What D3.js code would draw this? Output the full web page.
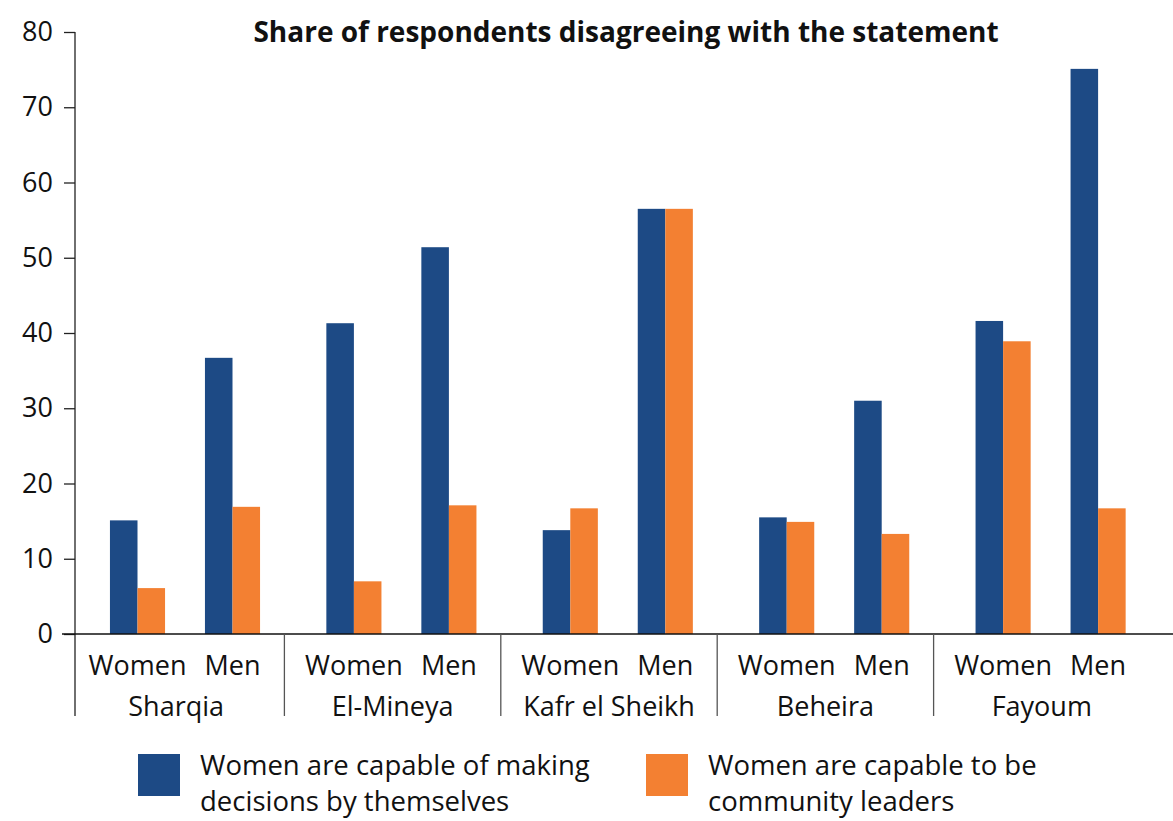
<!DOCTYPE html>
<html>
<head>
<meta charset="utf-8">
<script src="https://cdn.jsdelivr.net/npm/d3@7"></script>
<style>
  body { margin: 0; background: #fff; }
  text { font-family: "Open Sans", "Noto Sans", sans-serif; fill: #111; }
</style>
</head>
<body>
<div id="vis"></div>
<script>
// data ----
const regions = ["Sharqia", "El-Mineya", "Kafr el Sheikh", "Beheira", "Fayoum"]
const genders = ["Women", "Men"]
const seriesNames = ["Women are capable of making|decisions by themselves", "Women are capable to be|community leaders"]
// values per region, [Women, Men]
const decisions = [[15.1, 36.7], [41.3, 51.4], [13.8, 56.5], [15.5, 31.0], [41.6, 75.1]]
const leaders = [[6.1, 16.9], [7.0, 17.1], [16.7, 56.5], [14.9, 13.3], [38.9, 16.7]]
const yTicks = [0, 10, 20, 30, 40, 50, 60, 70, 80]
const colors = ["#1d4a85", "#f38032"]

//dimensions----
const width = 1173, height = 821
const axisX = 75, y0 = 634, yTop = 32

const svg = d3.select("#vis").append("svg")
    .attr("width", width)
    .attr("height", height)

//scales----
const yScale = d3.scaleLinear().domain([0, 80]).range([y0, yTop])

const xGroup = d3.scaleBand().domain(regions).range([68, 1150])

const xSub = d3.scaleBand().domain(genders)
    .range([22, 212])
    .paddingInner(0.42)
    .paddingOuter(0.21)

const xSeries = d3.scaleBand().domain([0, 1]).range([0, xSub.bandwidth()])

//title
svg.append("text")
    .attr("x", 626)
    .attr("y", 42)
    .attr("text-anchor", "middle")
    .style("font-size", "28px")
    .style("font-weight", "bold")
    .text("Share of respondents disagreeing with the statement")

//bars----
const rows = []
regions.forEach((r, i) => {
    genders.forEach((g, j) => {
        rows.push({region: r, gender: g, s: 0, v: decisions[i][j]})
        rows.push({region: r, gender: g, s: 1, v: leaders[i][j]})
    })
})

svg.append("g").selectAll("rect")
    .data(rows)
    .enter().append("rect")
    .attr("x", d => xGroup(d.region) + xSub(d.gender) + xSeries(d.s))
    .attr("width", xSeries.bandwidth())
    .attr("y", d => yScale(d.v))
    .attr("height", d => y0 - yScale(d.v))
    .attr("fill", d => colors[d.s])

//y axis----
const yAxis = svg.append("g")
    .attr("transform", `translate(${axisX},0)`)
    .call(d3.axisLeft(yScale).tickValues(yTicks).tickSize(11).tickPadding(11))
yAxis.select(".domain").remove()
yAxis.selectAll("line").attr("stroke", "#222").attr("stroke-width", 1.3)
yAxis.selectAll("text").style("font-size", "27px").attr("fill", "#111")

svg.append("line")
    .attr("x1", axisX).attr("x2", axisX)
    .attr("y1", yTop).attr("y2", 716)
    .attr("stroke", "#222").attr("stroke-width", 1.3)

//x axis line
svg.append("line")
    .attr("x1", 62).attr("x2", width)
    .attr("y1", y0).attr("y2", y0)
    .attr("stroke", "#111").attr("stroke-width", 1.5)

//separators between regions
svg.append("g").selectAll("line")
    .data(regions.slice(1))
    .enter().append("line")
    .attr("x1", d => xGroup(d)).attr("x2", d => xGroup(d))
    .attr("y1", y0).attr("y2", 716)
    .attr("stroke", "#555").attr("stroke-width", 1.3)

//category labels
const labelG = svg.append("g")
regions.forEach(r => {
    genders.forEach(g => {
        labelG.append("text")
            .attr("x", xGroup(r) + xSub(g) + xSub.bandwidth() / 2)
            .attr("y", 675)
            .attr("text-anchor", "middle")
            .style("font-size", "27px")
            .text(g)
    })
    labelG.append("text")
        .attr("x", xGroup(r) + xGroup.bandwidth() / 2)
        .attr("y", 716)
        .attr("text-anchor", "middle")
        .style("font-size", "27px")
        .text(r)
})

//legend----
const legendX = [138, 646]
seriesNames.forEach((name, i) => {
    const g = svg.append("g").attr("transform", `translate(${legendX[i]},754)`)
    g.append("rect")
        .attr("width", 42).attr("height", 42)
        .attr("fill", colors[i])
    name.split("|").forEach((line, k) => {
        g.append("text")
            .attr("x", 62)
            .attr("y", 21 + k * 36)
            .style("font-size", "27.5px")
            .text(line)
    })
})
</script>
</body>
</html>
